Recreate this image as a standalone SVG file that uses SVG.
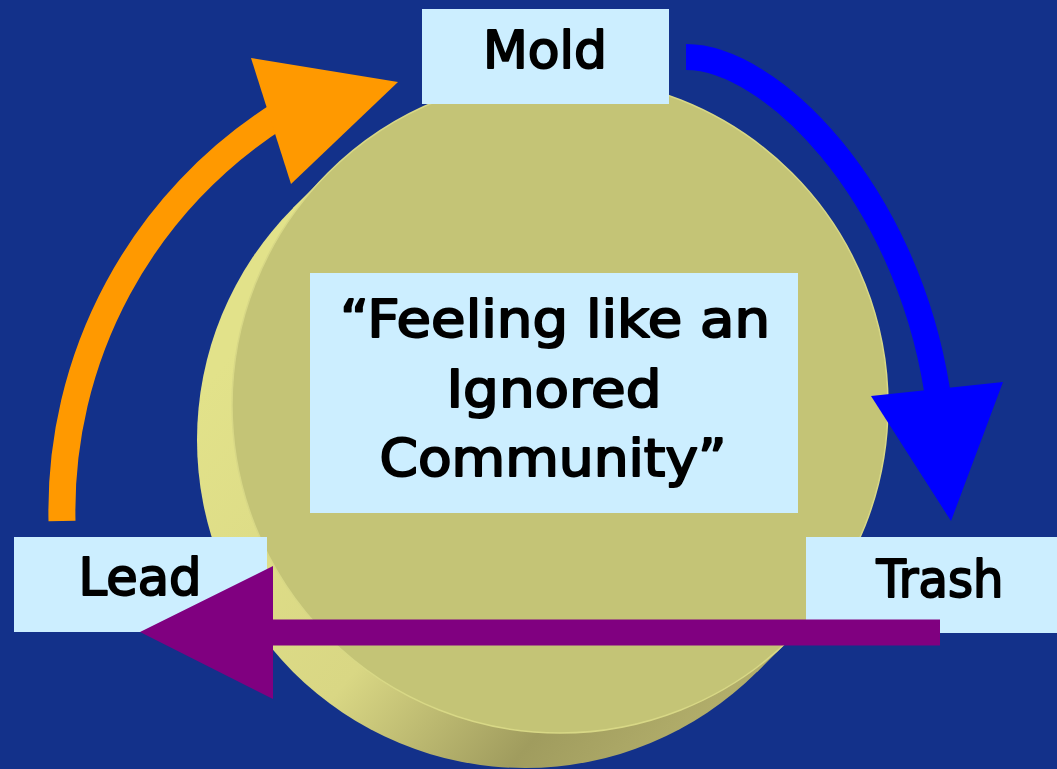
<svg xmlns="http://www.w3.org/2000/svg" width="1057" height="769" viewBox="0 0 1057 769">
  <defs>
    <linearGradient id="sideGrad" gradientUnits="userSpaceOnUse" x1="250" y1="330" x2="760" y2="760">
      <stop offset="0" stop-color="#e2e28a"/>
      <stop offset="0.45" stop-color="#d9d784"/>
      <stop offset="0.72" stop-color="#a09c5e"/>
      <stop offset="1" stop-color="#bbb771"/>
    </linearGradient>
    <style>
      .box { fill: #cceeff; }
      .lbl { font-family: "DejaVu Sans", "Liberation Sans", sans-serif; font-weight: normal; font-size: 52px; fill: #000; stroke: #000; stroke-width: 2; stroke-linejoin: round; text-anchor: middle; }
      .shaft { fill: none; stroke-linecap: butt; }
    </style>
  </defs>

  <rect x="0" y="0" width="1057" height="769" fill="#13318a"/>

  <g id="disc">
    <circle cx="525" cy="440" r="328" fill="url(#sideGrad)"/>
    <polygon points="328,173 792,637 757,672 293,208" fill="url(#sideGrad)"/>
    <circle cx="560" cy="405" r="328" fill="#c4c476" stroke="#d8d886" stroke-width="1.5"/>
  </g>

  <g id="center-node">
    <rect class="box" x="310" y="273" width="488" height="240"/>
    <text class="lbl" x="555" y="337" textLength="430" lengthAdjust="spacingAndGlyphs">“Feeling like an</text>
    <text class="lbl" x="554" y="407" textLength="215" lengthAdjust="spacingAndGlyphs">Ignored</text>
    <text class="lbl" x="553" y="476" textLength="347" lengthAdjust="spacingAndGlyphs">Community”</text>
  </g>

  <g id="mold">
    <rect class="box" x="422" y="9" width="247" height="95"/>
    <text class="lbl" x="545" y="68" textLength="124" lengthAdjust="spacingAndGlyphs">Mold</text>
  </g>

  <g id="lead">
    <rect class="box" x="14" y="537" width="253" height="95"/>
    <text class="lbl" x="140" y="595" textLength="123" lengthAdjust="spacingAndGlyphs">Lead</text>
  </g>

  <g id="trash">
    <rect class="box" x="806" y="537" width="251" height="96"/>
    <text class="lbl" x="940" y="597" textLength="127" lengthAdjust="spacingAndGlyphs">Trash</text>
  </g>

  <g id="connectors">
    <g id="lead-to-mold">
      <path class="shaft" d="M62,521 A468.5,468.5 0 0 1 281,114" stroke="#ff9900" stroke-width="27"/>
      <polygon points="251,58 398,82 291,184" fill="#ff9900"/>
    </g>
    <g id="mold-to-trash">
      <path class="shaft" d="M686,57 C770,57 905,190 937,390" stroke="#0000ff" stroke-width="26"/>
      <polygon points="871,396 1003,382 951,521" fill="#0000ff"/>
    </g>
    <g id="trash-to-lead">
      <polygon points="940,619.5 273,619.5 273,566 140,632 273,699 273,645.5 940,645.5" fill="#800080"/>
    </g>
  </g>
</svg>
